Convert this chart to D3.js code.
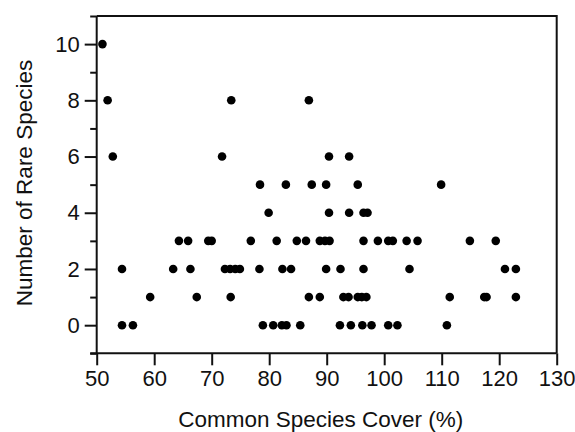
<!DOCTYPE html>
<html>
<head>
<meta charset="utf-8">
<script src="https://cdn.jsdelivr.net/npm/d3@7"></script>
<style>
  body { margin: 0; background: #fff; }
  text { font-family: "Liberation Sans", Arial, Helvetica, sans-serif; fill: #111; }
</style>
</head>
<body>
<svg id="chart" width="575" height="432"></svg>
<script>
// points, grouped by number of rare species
var rare10 = [51.0];
var rare8 = [51.9, 73.4, 86.9];
var rare6 = [52.8, 71.8, 90.4, 93.9];
var rare5 = [78.4, 82.9, 87.4, 89.9, 95.4, 109.9];
var rare4 = [79.9, 90.4, 93.9, 96.4, 97.1];
var rare3 = [64.3, 65.9, 69.4, 70.0, 76.8, 81.3, 84.8, 86.4, 88.8, 89.7, 90.5,
             96.4, 98.9, 100.7, 101.5, 103.9, 105.8, 114.9, 119.4];
var rare2 = [54.4, 63.3, 66.3, 72.3, 73.2, 74.1, 74.9, 78.3, 82.3, 83.8, 89.9,
             92.4, 96.4, 104.4, 121.0, 122.9];
var rare1 = [59.3, 67.4, 73.3, 86.9, 88.8, 92.9, 93.8, 95.4, 96.1, 96.9, 111.4,
             117.4, 117.8, 122.9];
var rare0 = [54.4, 56.3, 78.9, 80.7, 82.2, 83.0, 85.4, 92.3, 94.2, 96.2, 97.8,
             100.7, 102.3, 110.9];

var xTicks = [50, 60, 70, 80, 90, 100, 110, 120, 130];
var yTicks = [-1, 0, 1, 2, 3, 4, 5, 6, 7, 8, 9, 10, 11];
var yLabels = [0, 2, 4, 6, 8, 10];

var groups = [[10, rare10], [8, rare8], [6, rare6], [5, rare5], [4, rare4],
              [3, rare3], [2, rare2], [1, rare1], [0, rare0]];
var points = [];
groups.forEach(function (g) {
    g[1].forEach(function (c) { points.push({ cover: c, rare: g[0] }); });
});

var svg = d3.select("#chart");
var plotLeft = 96.7, plotTop = 16, plotRight = 556.7, plotBottom = 353.3;

var x = d3.scaleLinear().domain([50, 130]).range([plotLeft, plotRight]);
var y = d3.scaleLinear().domain([-1, 11]).range([plotBottom, plotTop]);

// frame (top and right)
svg.append("path")
    .attr("d", "M" + plotLeft + "," + plotTop + "H" + plotRight + "V" + plotBottom)
    .attr("fill", "none")
    .attr("stroke", "#111")
    .attr("stroke-width", 2);

var xAxis = svg.append("g")
    .attr("transform", "translate(0," + plotBottom + ")")
    .call(d3.axisBottom(x).tickValues(xTicks).tickSize(12).tickPadding(5).tickSizeOuter(0));

var yAxis = svg.append("g")
    .attr("transform", "translate(" + plotLeft + ",0)")
    .call(d3.axisLeft(y).tickValues(yTicks).tickSize(12).tickPadding(5).tickSizeOuter(0)
        .tickFormat(function (d) { return yLabels.indexOf(d) >= 0 ? d : ""; }));

yAxis.selectAll(".tick line")
    .attr("x2", function (d) { return yLabels.indexOf(d) >= 0 ? -12 : -6.5; });

[xAxis, yAxis].forEach(function (a) {
    a.attr("font-size", 22).attr("font-family", "Liberation Sans, Arial, sans-serif");
    a.select(".domain").attr("stroke", "#111").attr("stroke-width", 2);
    a.selectAll(".tick line").attr("stroke", "#111").attr("stroke-width", 2);
    a.selectAll(".tick text").attr("fill", "#111");
});
// stretch the domain lines a little past the corner like the original
xAxis.select(".domain").attr("d", "M" + (plotLeft - 6.5) + ",0H" + plotRight);
yAxis.select(".domain").attr("d", "M0," + (plotBottom + 1) + "V" + plotTop);

svg.append("g")
    .selectAll("circle")
    .data(points)
    .enter()
    .append("circle")
    .attr("cx", function (d) { return x(d.cover); })
    .attr("cy", function (d) { return y(d.rare); })
    .attr("r", 4.3)
    .attr("fill", "#000");

svg.append("text")
    .attr("x", (plotLeft + plotRight) / 2 - 6)
    .attr("y", 427)
    .attr("text-anchor", "middle")
    .attr("font-size", 22.5)
    .text("Common Species Cover (%)");

svg.append("text")
    .attr("transform", "translate(32,183) rotate(-90)")
    .attr("text-anchor", "middle")
    .attr("font-size", 22.5)
    .text("Number of Rare Species");
</script>
</body>
</html>
